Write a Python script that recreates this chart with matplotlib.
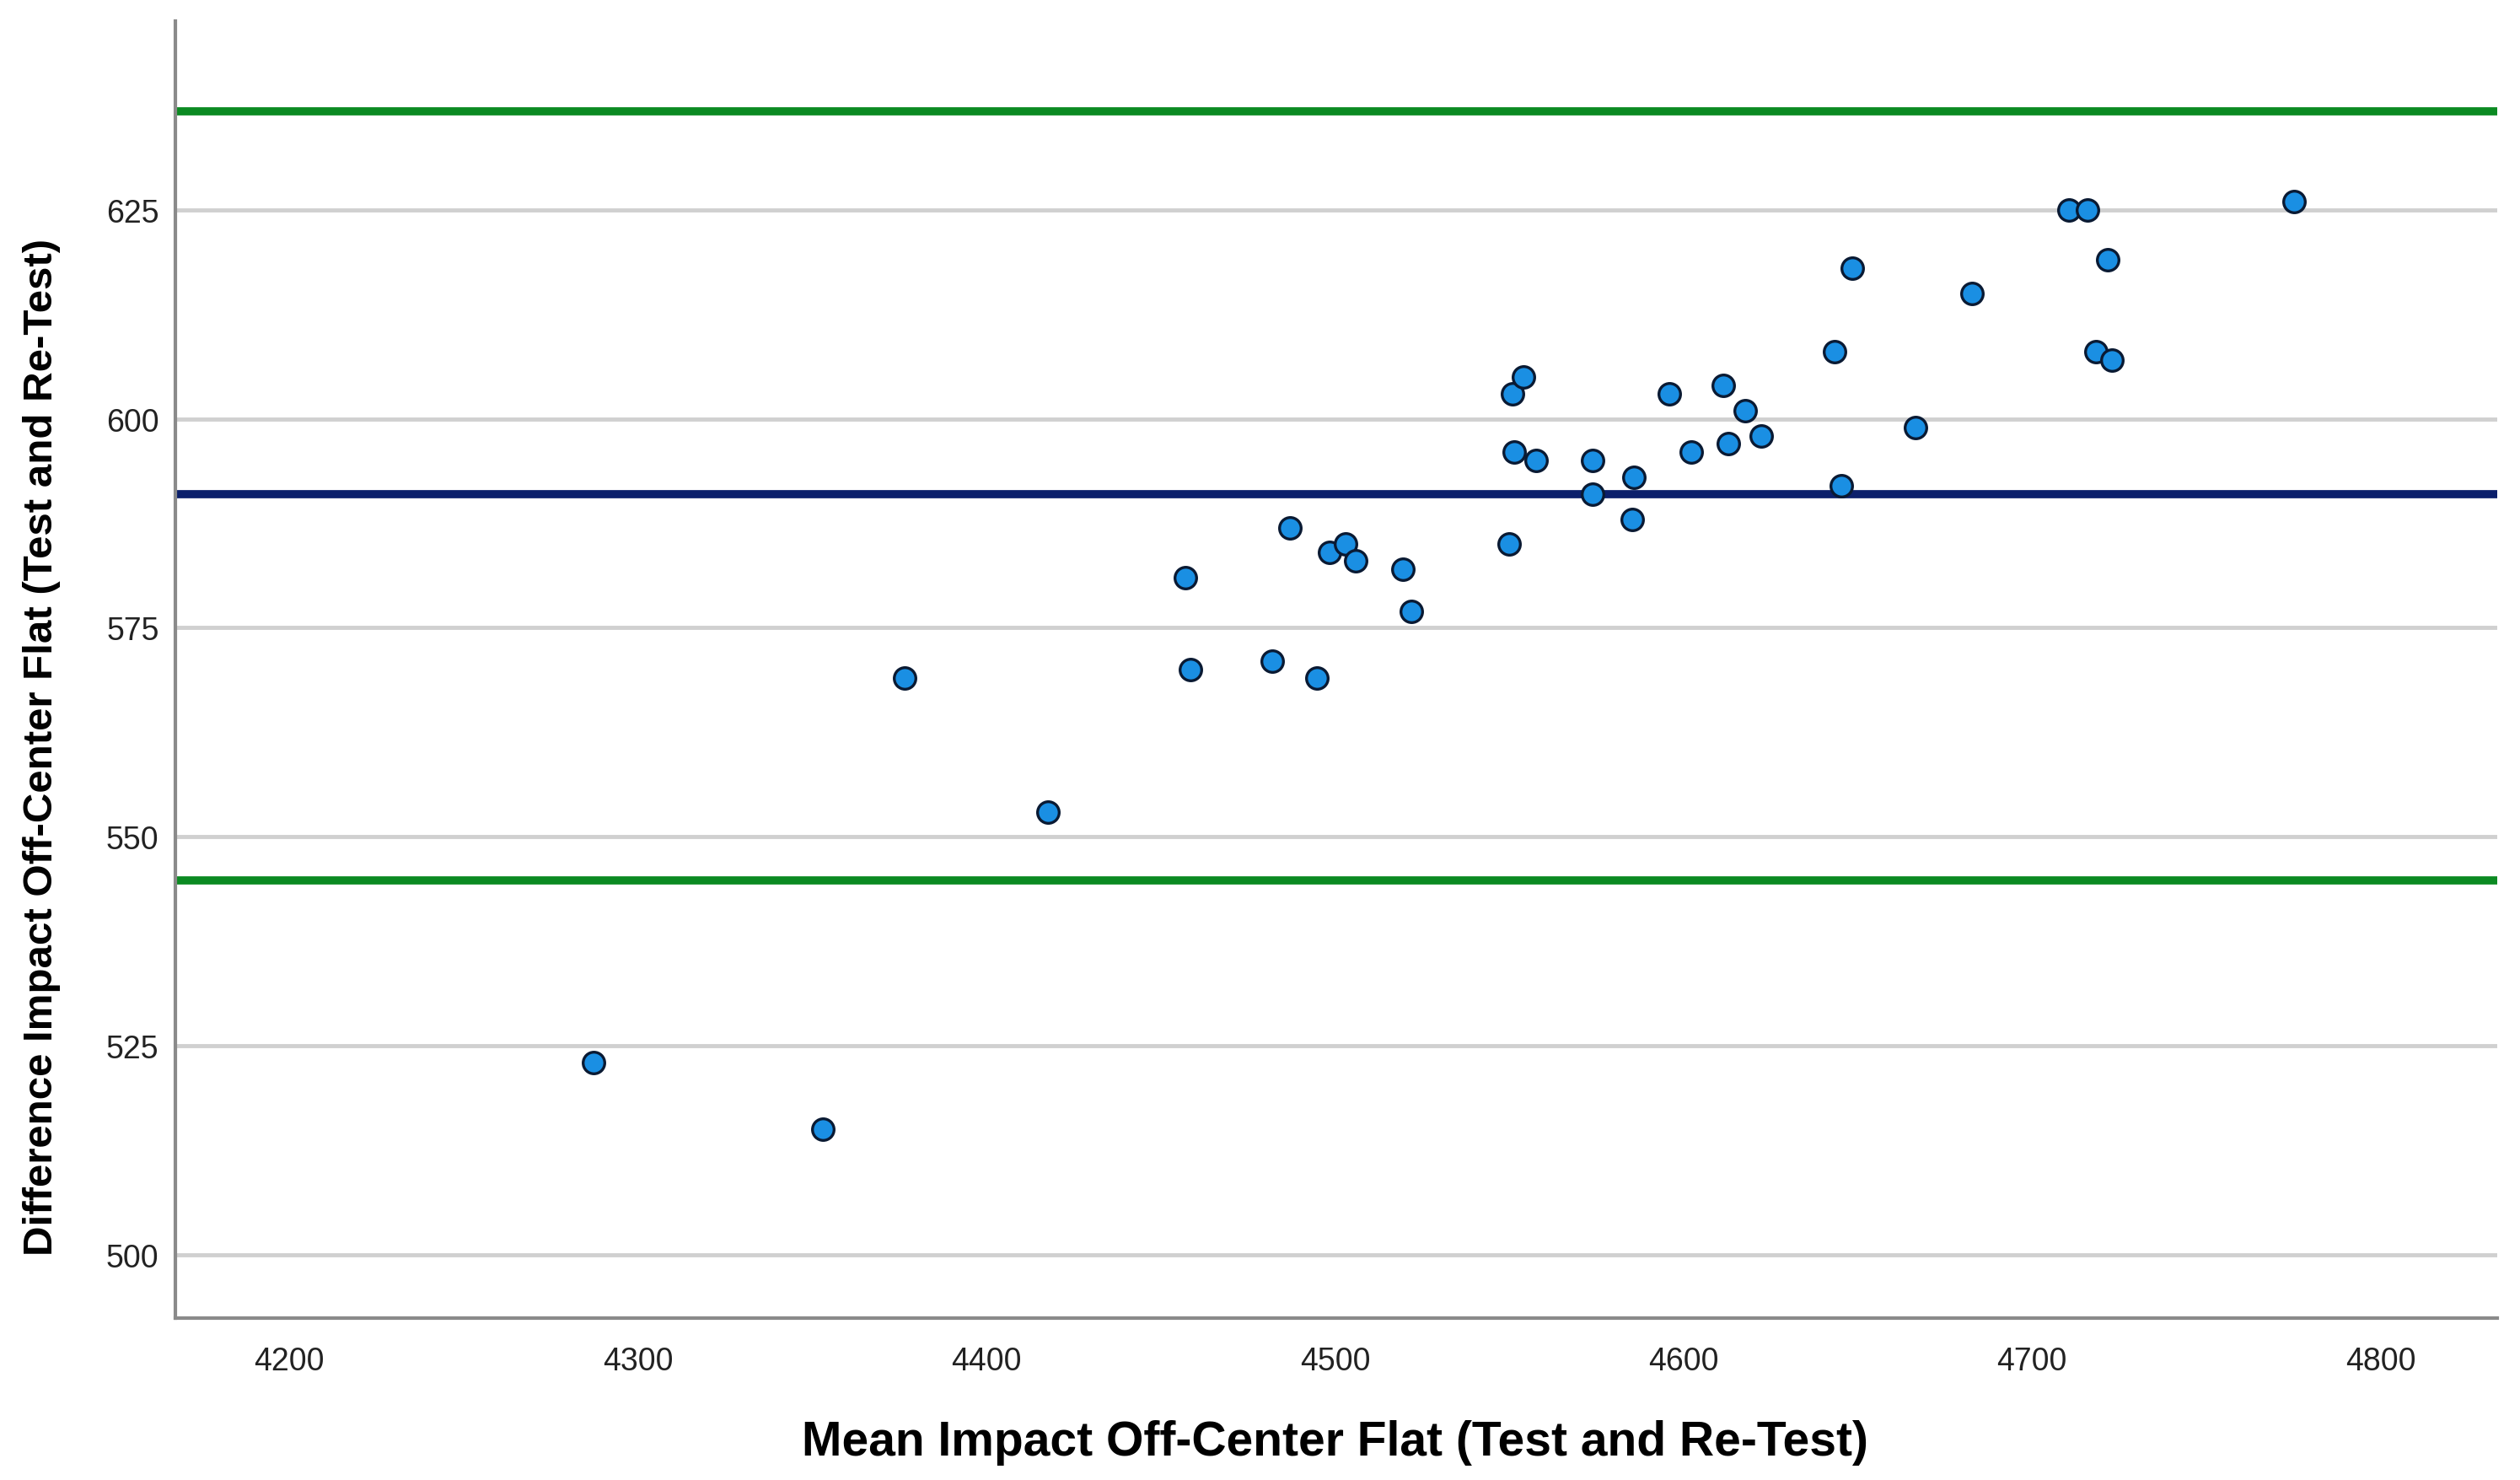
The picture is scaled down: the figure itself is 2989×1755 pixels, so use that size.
import matplotlib
matplotlib.use("Agg")
import matplotlib.pyplot as plt
from matplotlib import font_manager

# Bland-Altman: mean vs difference, off-center flat impact
mean_vals = [4287.2, 4353.1, 4376.6, 4417.6, 4457.1, 4458.6, 4482.1, 4487.1,
             4494.9, 4498.5, 4503.1, 4506.0, 4519.5, 4522.0, 4550.0, 4551.0,
             4551.5, 4554.1, 4557.8, 4574.0, 4574.0, 4585.3, 4585.8, 4596.0,
             4602.3, 4611.5, 4612.9, 4617.8, 4622.4, 4643.4, 4645.3, 4648.4,
             4666.6, 4682.8, 4710.7, 4715.8, 4718.3, 4721.6, 4722.9, 4775.2]
diff_vals = [523, 515, 569, 553, 581, 570, 571, 587,
             569, 584, 585, 583, 582, 577, 585, 603,
             596, 605, 595, 595, 591, 588, 593, 603,
             596, 604, 597, 601, 598, 608, 592, 618,
             599, 615, 625, 625, 608, 619, 607, 626]

mean_diff = 591.0
upper_loa = 636.8
lower_loa = 544.8

xticks = [4200, 4300, 4400, 4500, 4600, 4700, 4800]
yticks = [500, 525, 550, 575, 600, 625]

names = {f.name for f in font_manager.fontManager.ttflist}
label_fams = [f for f in ["Liberation Sans Narrow", "Liberation Sans"] if f in names]
if not label_fams:
    label_fams = ["DejaVu Sans"]

plt.rcParams["font.family"] = ["Liberation Sans", "DejaVu Sans"]

fig = plt.figure(figsize=(29.89, 17.56), dpi=100)
ax = fig.add_axes([0.0696, 0.1093, 0.9214, 0.8759])

ax.set_xlim(4167.3, 4833.5)
ax.set_ylim(492.4, 647.6)

for yv in yticks:
    ax.axhline(yv, color="#d0d0d0", lw=3.5, zorder=1)

ax.axhline(upper_loa, color="#0b8a22", lw=7, zorder=2)
ax.axhline(lower_loa, color="#0b8a22", lw=7, zorder=2)
ax.axhline(mean_diff, color="#0b1f6b", lw=7, zorder=2)

ax.scatter(mean_vals, diff_vals, s=340, c="#1a8fe3", edgecolors="#0a1a33",
           linewidths=2.4, zorder=3)

ax.set_xticks(xticks)
ax.set_yticks(yticks)
ax.tick_params(axis="both", length=0, labelsize=27, labelcolor="#222222")
ax.tick_params(axis="y", pad=14)
ax.tick_params(axis="x", pad=24)

for s in ["top", "right"]:
    ax.spines[s].set_visible(False)
for s in ["left", "bottom"]:
    ax.spines[s].set_color("#8a8a8a")
    ax.spines[s].set_linewidth(3)

ax.set_xlabel("Mean Impact Off-Center Flat (Test and Re-Test)", fontsize=41,
              fontweight="bold", family=label_fams)
ax.xaxis.set_label_coords(0.4996, -0.0956)
ax.xaxis.label.set_verticalalignment("center")

ax.set_ylabel("Difference Impact Off-Center Flat (Test and Re-Test)", fontsize=35.5,
              fontweight="bold", family=label_fams)
ax.yaxis.set_label_coords(-0.0575, 0.4408)
ax.yaxis.label.set_verticalalignment("center")

fig.savefig("out.png", dpi=100, facecolor="white")
